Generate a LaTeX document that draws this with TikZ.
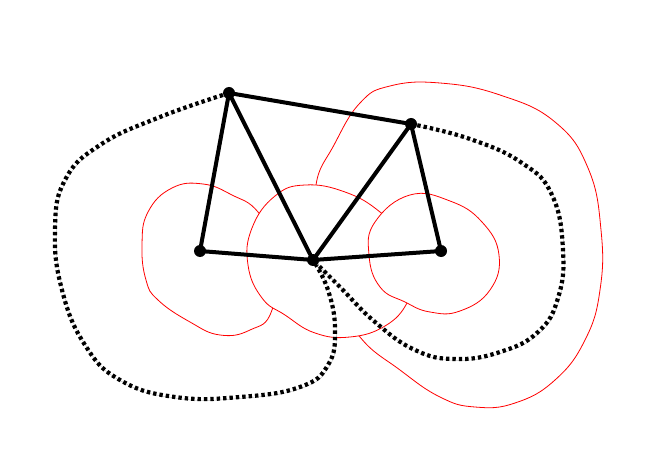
\documentclass[tikz,border=0pt]{standalone}
\pgfdeclarelayer{back}
\pgfsetlayers{back,main}
\begin{document}
\begin{tikzpicture}[x=1pt,y=-1pt,
  blob/.style={draw=red, line width=0.8pt, fill=white},
  edge/.style={line width=4pt, line cap=round, black},
  dotline/.style={line width=4.2pt, dash pattern=on 3.4pt off 3pt, black},
  vertex/.style={circle, fill=black, minimum size=12pt, inner sep=0pt},
  shade/.style={preaction={draw=black!25, transform canvas={shift={(1.3pt,-1.3pt)}}}}]
\useasboundingbox (0,0) rectangle (660,470);
% vertices
\node[vertex] (A) at (229,93) {};
\node[vertex] (B) at (411,124) {};
\node[vertex] (C) at (200,251) {};
\node[vertex] (D) at (313,260) {};
\node[vertex] (E) at (441,251) {};
\begin{pgfonlayer}{back}
% red blobs (bottom to top)
\path[blob] plot[smooth cycle, tension=0.75] coordinates {(316,185)(334,145)(360,103)(390,86)(440,83)(500,95)(555,122)(588,168)(601,230)(600,290)(585,340)(555,380)(515,403)(475,407)(440,397)(400,370)(360,337)(335,290)(320,235)};
\path[blob] plot[smooth cycle, tension=0.75] coordinates {(142,245)(148,212)(172,188)(203,184)(232,195)(258,212)(278,250)(272,310)(250,330)(220,335)(190,322)(158,300)(146,280)};
\path[blob] plot[smooth cycle, tension=0.75] coordinates {(305,185)(345,192)(380,212)(405,240)(410,280)(407,303)(385,326)(350,337)(315,333)(285,315)(262,298)(248,265)(252,228)(275,196)};
\path[blob] plot[smooth cycle, tension=0.75] coordinates {(410,195)(450,201)(482,222)(499,255)(490,290)(460,311)(430,312)(405,302)(380,287)(369,255)(375,222)};
% solid edges
\draw[edge, shade] (A.center) -- (B.center);
\draw[edge, shade] (A.center) -- (C.center);
\draw[edge, shade] (A.center) -- (D.center);
\draw[edge, shade] (B.center) -- (D.center);
\draw[edge, shade] (B.center) -- (E.center);
\draw[edge, shade] (C.center) -- (D.center);
\draw[edge, shade] (D.center) -- (E.center);
% dotted edges
\draw[dotline, shade] plot[smooth, tension=0.75] coordinates {(A.center)(160,117)(100,145)(65,180)(55,230)(62,290)(85,345)(120,380)(175,397)(240,397)(300,387)(328,365)(335,330)(328,290)(D.center)};
\draw[dotline, shade] plot[smooth, tension=0.75] coordinates {(B.center)(470,139)(522,163)(552,195)(563,250)(558,298)(538,332)(500,352)(455,359)(415,350)(375,322)(340,287)(D.center)};
\end{pgfonlayer}
\end{tikzpicture}
\end{document}
